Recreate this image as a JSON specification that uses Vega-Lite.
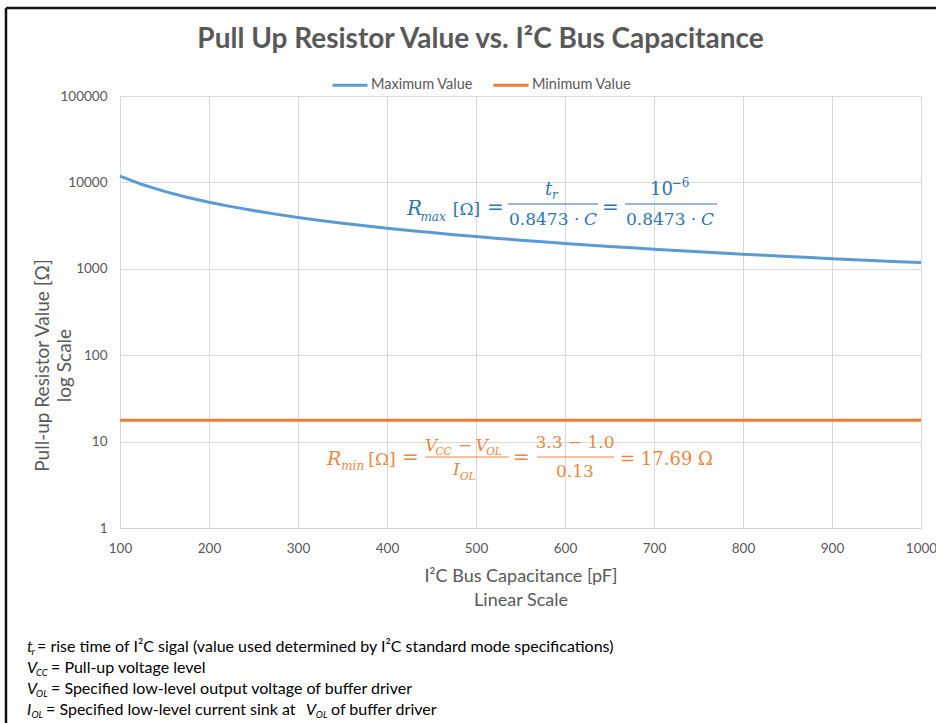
{
  "$schema": "https://vega.github.io/schema/vega-lite/v6.json",
  "width": 801,
  "height": 432,
  "autosize": {"type": "none"},
  "padding": {"left": 120, "top": 96, "right": 15, "bottom": 195},
  "background": "white",
  "config": {"view": {"stroke": null}, "font": "Lato"},
  "title": {"text": "Pull Up Resistor Value vs. I²C Bus Capacitance", "font": "Lato", "fontSize": 28, "fontWeight": "bold", "color": "#595959", "anchor": "middle", "dx": -40, "dy": 57, "offset": 10},
  "layer": [
    {
      "data": {"values": [
        {"C": 100, "R": 11802, "series": "Maximum Value"},
        {"C": 125, "R": 9442, "series": "Maximum Value"},
        {"C": 150, "R": 7868, "series": "Maximum Value"},
        {"C": 175, "R": 6744, "series": "Maximum Value"},
        {"C": 200, "R": 5901, "series": "Maximum Value"},
        {"C": 225, "R": 5245, "series": "Maximum Value"},
        {"C": 250, "R": 4721, "series": "Maximum Value"},
        {"C": 275, "R": 4292, "series": "Maximum Value"},
        {"C": 300, "R": 3934, "series": "Maximum Value"},
        {"C": 325, "R": 3631, "series": "Maximum Value"},
        {"C": 350, "R": 3372, "series": "Maximum Value"},
        {"C": 375, "R": 3147, "series": "Maximum Value"},
        {"C": 400, "R": 2951, "series": "Maximum Value"},
        {"C": 425, "R": 2777, "series": "Maximum Value"},
        {"C": 450, "R": 2623, "series": "Maximum Value"},
        {"C": 475, "R": 2485, "series": "Maximum Value"},
        {"C": 500, "R": 2360, "series": "Maximum Value"},
        {"C": 525, "R": 2248, "series": "Maximum Value"},
        {"C": 550, "R": 2146, "series": "Maximum Value"},
        {"C": 575, "R": 2053, "series": "Maximum Value"},
        {"C": 600, "R": 1967, "series": "Maximum Value"},
        {"C": 625, "R": 1888, "series": "Maximum Value"},
        {"C": 650, "R": 1816, "series": "Maximum Value"},
        {"C": 675, "R": 1748, "series": "Maximum Value"},
        {"C": 700, "R": 1686, "series": "Maximum Value"},
        {"C": 725, "R": 1628, "series": "Maximum Value"},
        {"C": 750, "R": 1574, "series": "Maximum Value"},
        {"C": 775, "R": 1523, "series": "Maximum Value"},
        {"C": 800, "R": 1475, "series": "Maximum Value"},
        {"C": 825, "R": 1431, "series": "Maximum Value"},
        {"C": 850, "R": 1388, "series": "Maximum Value"},
        {"C": 875, "R": 1349, "series": "Maximum Value"},
        {"C": 900, "R": 1311, "series": "Maximum Value"},
        {"C": 925, "R": 1276, "series": "Maximum Value"},
        {"C": 950, "R": 1242, "series": "Maximum Value"},
        {"C": 975, "R": 1210, "series": "Maximum Value"},
        {"C": 1000, "R": 1180, "series": "Maximum Value"},
        {"C": 100, "R": 17.69, "series": "Minimum Value"},
        {"C": 1000, "R": 17.69, "series": "Minimum Value"}
      ]},
      "mark": {"type": "line", "strokeWidth": 3},
      "encoding": {
        "x": {"field": "C", "type": "quantitative",
          "scale": {"domain": [100, 1000], "nice": false, "zero": false},
          "axis": {"values": [100, 200, 300, 400, 500, 600, 700, 800, 900, 1000], "format": "d", "labelFlush": false, "ticks": false,
            "domainColor": "#d0d0d0", "gridColor": "#d9d9d9", "labelColor": "#595959", "labelFont": "Lato", "labelFontSize": 13.5, "labelPadding": 13,
            "title": ["I²C Bus Capacitance [pF]", "Linear Scale"], "titleFont": "Lato", "titleFontSize": 18, "titleFontWeight": "normal", "titleColor": "#595959",
            "titleLineHeight": 24, "titleBaseline": "top", "titleAlign": "center", "titleX": 400.5, "titleY": 39}},
        "y": {"field": "R", "type": "quantitative",
          "scale": {"type": "log", "domain": [1, 100000], "nice": false},
          "axis": {"values": [1, 10, 100, 1000, 10000, 100000], "format": "d", "ticks": false, "domain": false,
            "gridColor": "#d9d9d9", "labelColor": "#595959", "labelFont": "Lato", "labelFontSize": 13.5, "labelPadding": 13,
            "title": ["Pull-up Resistor Value [Ω]", "log Scale"], "titleFont": "Lato", "titleFontSize": 19, "titleFontWeight": "normal", "titleColor": "#595959",
            "titleLineHeight": 22, "titleAngle": -90, "titleAlign": "center", "titleBaseline": "middle", "titleX": -78, "titleY": 269}},
        "color": {"field": "series", "type": "nominal",
          "scale": {"domain": ["Maximum Value", "Minimum Value"], "range": ["#5b9bd5", "#ed7d31"]},
          "legend": {"orient": "none", "legendX": 211, "legendY": -30, "direction": "horizontal", "title": null,
            "symbolType": "stroke", "symbolSize": 1225, "symbolStrokeWidth": 3, "labelFontSize": 14.5, "labelColor": "#595959", "labelFont": "Lato",
            "columnPadding": 14, "labelOffset": 2, "padding": 0}}
      }
    },
    {"data": {"values": [{}]}, "mark": {"type": "rule", "color": "#111111", "strokeWidth": 2.5}, "encoding": {"x": {"datum": -28.1}, "y": {"datum": 1043500}, "y2": {"datum": 0.004}}},
    {"data": {"values": [{}]}, "mark": {"type": "rule", "color": "#111111", "strokeWidth": 2.5}, "encoding": {"x": {"datum": -28.1}, "x2": {"datum": 1030}, "y": {"datum": 1043500}}},

    {"data": {"values": [{}]}, "mark": {"type": "text", "text": "R", "font": "DejaVu Serif", "fontStyle": "italic", "fontSize": 20, "color": "#2e75b6", "align": "left", "baseline": "alphabetic"}, "encoding": {"x": {"datum": 422.5}, "y": {"datum": 4195}}},
    {"data": {"values": [{}]}, "mark": {"type": "text", "text": "max", "font": "DejaVu Serif", "fontStyle": "italic", "fontSize": 12, "color": "#2e75b6", "align": "left", "baseline": "alphabetic"}, "encoding": {"x": {"datum": 437.5}, "y": {"datum": 3574}}},
    {"data": {"values": [{}]}, "mark": {"type": "text", "text": "[Ω]", "font": "DejaVu Serif", "fontSize": 17, "color": "#2e75b6", "align": "left", "baseline": "alphabetic"}, "encoding": {"x": {"datum": 474.0}, "y": {"datum": 4195}}},
    {"data": {"values": [{}]}, "mark": {"type": "text", "text": "=", "font": "DejaVu Serif", "fontSize": 20, "color": "#2e75b6", "align": "left", "baseline": "alphabetic"}, "encoding": {"x": {"datum": 512.4}, "y": {"datum": 4308}}},
    {"data": {"values": [{}]}, "mark": {"type": "text", "text": "t", "font": "DejaVu Serif", "fontStyle": "italic", "fontSize": 18, "color": "#2e75b6", "align": "left", "baseline": "alphabetic"}, "encoding": {"x": {"datum": 577.5}, "y": {"datum": 7148}}},
    {"data": {"values": [{}]}, "mark": {"type": "text", "text": "r", "font": "DejaVu Serif", "fontStyle": "italic", "fontSize": 12, "color": "#2e75b6", "align": "left", "baseline": "alphabetic"}, "encoding": {"x": {"datum": 585.4}, "y": {"datum": 6426}}},
    {"data": {"values": [{}]}, "mark": {"type": "rule", "color": "#2e75b6", "strokeWidth": 1}, "encoding": {"x": {"datum": 536.0}, "x2": {"datum": 637.1}, "y": {"datum": 5623}}},
    {"data": {"values": [{}]}, "mark": {"type": "text", "text": "0.8473 ·", "font": "DejaVu Serif", "fontSize": 17, "color": "#2e75b6", "align": "left", "baseline": "alphabetic"}, "encoding": {"x": {"datum": 537.1}, "y": {"datum": 3213}}},
    {"data": {"values": [{}]}, "mark": {"type": "text", "text": "C", "font": "DejaVu Serif", "fontStyle": "italic", "fontSize": 17, "color": "#2e75b6", "align": "left", "baseline": "alphabetic"}, "encoding": {"x": {"datum": 621.4}, "y": {"datum": 3213}}},
    {"data": {"values": [{}]}, "mark": {"type": "text", "text": "=", "font": "DejaVu Serif", "fontSize": 20, "color": "#2e75b6", "align": "left", "baseline": "alphabetic"}, "encoding": {"x": {"datum": 641.6}, "y": {"datum": 4308}}},
    {"data": {"values": [{}]}, "mark": {"type": "text", "text": "10", "font": "DejaVu Serif", "fontSize": 18, "color": "#2e75b6", "align": "left", "baseline": "alphabetic"}, "encoding": {"x": {"datum": 695.5}, "y": {"datum": 7148}}},
    {"data": {"values": [{}]}, "mark": {"type": "text", "text": "−6", "font": "DejaVu Serif", "fontSize": 12, "color": "#2e75b6", "align": "left", "baseline": "alphabetic"}, "encoding": {"x": {"datum": 719.8}, "y": {"datum": 8849}}},
    {"data": {"values": [{}]}, "mark": {"type": "rule", "color": "#2e75b6", "strokeWidth": 1}, "encoding": {"x": {"datum": 667.4}, "x2": {"datum": 770.8}, "y": {"datum": 5623}}},
    {"data": {"values": [{}]}, "mark": {"type": "text", "text": "0.8473 ·", "font": "DejaVu Serif", "fontSize": 17, "color": "#2e75b6", "align": "left", "baseline": "alphabetic"}, "encoding": {"x": {"datum": 668.5}, "y": {"datum": 3213}}},
    {"data": {"values": [{}]}, "mark": {"type": "text", "text": "C", "font": "DejaVu Serif", "fontStyle": "italic", "fontSize": 17, "color": "#2e75b6", "align": "left", "baseline": "alphabetic"}, "encoding": {"x": {"datum": 752.8}, "y": {"datum": 3213}}},

    {"data": {"values": [{}]}, "mark": {"type": "text", "text": "R", "font": "DejaVu Serif", "fontStyle": "italic", "fontSize": 19, "color": "#ee8640", "align": "left", "baseline": "alphabetic"}, "encoding": {"x": {"datum": 332.6}, "y": {"datum": 5.36}}},
    {"data": {"values": [{}]}, "mark": {"type": "text", "text": "min", "font": "DejaVu Serif", "fontStyle": "italic", "fontSize": 12, "color": "#ee8640", "align": "left", "baseline": "alphabetic"}, "encoding": {"x": {"datum": 348.5}, "y": {"datum": 4.69}}},
    {"data": {"values": [{}]}, "mark": {"type": "text", "text": "[Ω]", "font": "DejaVu Serif", "fontSize": 17, "color": "#ee8640", "align": "left", "baseline": "alphabetic"}, "encoding": {"x": {"datum": 379.0}, "y": {"datum": 5.36}}},
    {"data": {"values": [{}]}, "mark": {"type": "text", "text": "=", "font": "DejaVu Serif", "fontSize": 20, "color": "#ee8640", "align": "left", "baseline": "alphabetic"}, "encoding": {"x": {"datum": 416.9}, "y": {"datum": 5.505}}},
    {"data": {"values": [{}]}, "mark": {"type": "text", "text": "V", "font": "DejaVu Serif", "fontStyle": "italic", "fontSize": 17, "color": "#ee8640", "align": "left", "baseline": "alphabetic"}, "encoding": {"x": {"datum": 442.7}, "y": {"datum": 7.785}}},
    {"data": {"values": [{}]}, "mark": {"type": "text", "text": "CC", "font": "DejaVu Serif", "fontStyle": "italic", "fontSize": 10.5, "color": "#ee8640", "align": "left", "baseline": "alphabetic"}, "encoding": {"x": {"datum": 454.5}, "y": {"datum": 6.998}}},
    {"data": {"values": [{}]}, "mark": {"type": "text", "text": "−", "font": "DejaVu Serif", "fontSize": 17, "color": "#ee8640", "align": "left", "baseline": "alphabetic"}, "encoding": {"x": {"datum": 479.5}, "y": {"datum": 7.785}}},
    {"data": {"values": [{}]}, "mark": {"type": "text", "text": "V", "font": "DejaVu Serif", "fontStyle": "italic", "fontSize": 17, "color": "#ee8640", "align": "left", "baseline": "alphabetic"}, "encoding": {"x": {"datum": 499.5}, "y": {"datum": 7.785}}},
    {"data": {"values": [{}]}, "mark": {"type": "text", "text": "OL", "font": "DejaVu Serif", "fontStyle": "italic", "fontSize": 10.5, "color": "#ee8640", "align": "left", "baseline": "alphabetic"}, "encoding": {"x": {"datum": 511.5}, "y": {"datum": 6.998}}},
    {"data": {"values": [{}]}, "mark": {"type": "rule", "color": "#ee8640", "strokeWidth": 1}, "encoding": {"x": {"datum": 442.7}, "x2": {"datum": 537.1}, "y": {"datum": 6.63}}},
    {"data": {"values": [{}]}, "mark": {"type": "text", "text": "I", "font": "DejaVu Serif", "fontStyle": "italic", "fontSize": 17, "color": "#ee8640", "align": "left", "baseline": "alphabetic"}, "encoding": {"x": {"datum": 474.2}, "y": {"datum": 4.105}}},
    {"data": {"values": [{}]}, "mark": {"type": "text", "text": "OL", "font": "DejaVu Serif", "fontStyle": "italic", "fontSize": 10.5, "color": "#ee8640", "align": "left", "baseline": "alphabetic"}, "encoding": {"x": {"datum": 482.0}, "y": {"datum": 3.594}}},
    {"data": {"values": [{}]}, "mark": {"type": "text", "text": "=", "font": "DejaVu Serif", "fontSize": 20, "color": "#ee8640", "align": "left", "baseline": "alphabetic"}, "encoding": {"x": {"datum": 541.6}, "y": {"datum": 5.505}}},
    {"data": {"values": [{}]}, "mark": {"type": "text", "text": "3.3 − 1.0", "font": "DejaVu Serif", "fontSize": 17, "color": "#ee8640", "align": "center", "baseline": "alphabetic"}, "encoding": {"x": {"datum": 611.2}, "y": {"datum": 8.43}}},
    {"data": {"values": [{}]}, "mark": {"type": "rule", "color": "#ee8640", "strokeWidth": 1}, "encoding": {"x": {"datum": 568.5}, "x2": {"datum": 655.1}, "y": {"datum": 6.63}}},
    {"data": {"values": [{}]}, "mark": {"type": "text", "text": "0.13", "font": "DejaVu Serif", "fontSize": 17, "color": "#ee8640", "align": "center", "baseline": "alphabetic"}, "encoding": {"x": {"datum": 611.2}, "y": {"datum": 3.893}}},
    {"data": {"values": [{}]}, "mark": {"type": "text", "text": "= 17.69 Ω", "font": "DejaVu Serif", "fontSize": 18, "color": "#ee8640", "align": "left", "baseline": "alphabetic"}, "encoding": {"x": {"datum": 661.8}, "y": {"datum": 5.36}}},

    {"data": {"values": [{}]}, "mark": {"type": "text", "text": "t", "font": "Lato", "fontStyle": "italic", "fontSize": 16, "color": "#000000", "align": "left", "baseline": "alphabetic"}, "encoding": {"x": {"datum": -4.5}, "y": {"datum": 0.0367}}},
    {"data": {"values": [{}]}, "mark": {"type": "text", "text": "r", "font": "Lato", "fontStyle": "italic", "fontSize": 10, "color": "#000000", "align": "left", "baseline": "alphabetic"}, "encoding": {"x": {"datum": 0.6}, "y": {"datum": 0.03389}}},
    {"data": {"values": [{}]}, "mark": {"type": "text", "text": "= rise time of I²C sigal (value used determined by I²C standard mode specifications)", "font": "Lato", "fontSize": 16, "color": "#000000", "align": "left", "baseline": "alphabetic"}, "encoding": {"x": {"datum": 6.8}, "y": {"datum": 0.0367}}},
    {"data": {"values": [{}]}, "mark": {"type": "text", "text": "V", "font": "Lato", "fontStyle": "italic", "fontSize": 16, "color": "#000000", "align": "left", "baseline": "alphabetic"}, "encoding": {"x": {"datum": -4.5}, "y": {"datum": 0.02098}}},
    {"data": {"values": [{}]}, "mark": {"type": "text", "text": "CC", "font": "Lato", "fontStyle": "italic", "fontSize": 9.5, "color": "#000000", "align": "left", "baseline": "alphabetic"}, "encoding": {"x": {"datum": 5.7}, "y": {"datum": 0.01936}}},
    {"data": {"values": [{}]}, "mark": {"type": "text", "text": "= Pull-up voltage level", "font": "Lato", "fontSize": 16, "color": "#000000", "align": "left", "baseline": "alphabetic"}, "encoding": {"x": {"datum": 22.5}, "y": {"datum": 0.02098}}},
    {"data": {"values": [{}]}, "mark": {"type": "text", "text": "V", "font": "Lato", "fontStyle": "italic", "fontSize": 16, "color": "#000000", "align": "left", "baseline": "alphabetic"}, "encoding": {"x": {"datum": -4.5}, "y": {"datum": 0.01199}}},
    {"data": {"values": [{}]}, "mark": {"type": "text", "text": "OL", "font": "Lato", "fontStyle": "italic", "fontSize": 9.5, "color": "#000000", "align": "left", "baseline": "alphabetic"}, "encoding": {"x": {"datum": 5.7}, "y": {"datum": 0.01107}}},
    {"data": {"values": [{}]}, "mark": {"type": "text", "text": "= Specified low-level output voltage of buffer driver", "font": "Lato", "fontSize": 16, "color": "#000000", "align": "left", "baseline": "alphabetic"}, "encoding": {"x": {"datum": 22.5}, "y": {"datum": 0.01199}}},
    {"data": {"values": [{}]}, "mark": {"type": "text", "text": "I", "font": "Lato", "fontStyle": "italic", "fontSize": 16, "color": "#000000", "align": "left", "baseline": "alphabetic"}, "encoding": {"x": {"datum": -4.5}, "y": {"datum": 0.00685}}},
    {"data": {"values": [{}]}, "mark": {"type": "text", "text": "OL", "font": "Lato", "fontStyle": "italic", "fontSize": 9.5, "color": "#000000", "align": "left", "baseline": "alphabetic"}, "encoding": {"x": {"datum": 0.6}, "y": {"datum": 0.006323}}},
    {"data": {"values": [{}]}, "mark": {"type": "text", "text": "= Specified low-level current sink at", "font": "Lato", "fontSize": 16, "color": "#000000", "align": "left", "baseline": "alphabetic"}, "encoding": {"x": {"datum": 16.9}, "y": {"datum": 0.00685}}},
    {"data": {"values": [{}]}, "mark": {"type": "text", "text": "V", "font": "Lato", "fontStyle": "italic", "fontSize": 16, "color": "#000000", "align": "left", "baseline": "alphabetic"}, "encoding": {"x": {"datum": 309.0}, "y": {"datum": 0.00685}}},
    {"data": {"values": [{}]}, "mark": {"type": "text", "text": "OL", "font": "Lato", "fontStyle": "italic", "fontSize": 9.5, "color": "#000000", "align": "left", "baseline": "alphabetic"}, "encoding": {"x": {"datum": 320.0}, "y": {"datum": 0.006323}}},
    {"data": {"values": [{}]}, "mark": {"type": "text", "text": "of buffer driver", "font": "Lato", "fontSize": 16, "color": "#000000", "align": "left", "baseline": "alphabetic"}, "encoding": {"x": {"datum": 337.1}, "y": {"datum": 0.00685}}}
  ]
}
